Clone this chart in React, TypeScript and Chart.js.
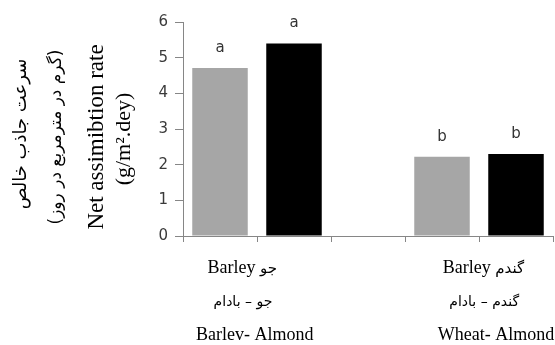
import React, { useEffect, useRef } from 'react';
import { Chart, registerables } from 'chart.js';

Chart.register(...registerables);

// ---- data ----
const slots = ['Barley', 'Almond', '', 'Wheat', 'Almond '];
const grayValues = [4.71, null, null, 2.22, null];
const blackValues = [null, 5.4, null, null, 2.3];
const grayLetters = ['a', null, null, 'b', null];
const blackLetters = [null, 'a', null, null, 'b'];
const yMin = 0;
const yMax = 6;
const yStep = 1;
const yTitleFa = ['سرعت جاذب خالص', '(گرم در مترمربع در روز)'];
const yTitleEn = ['Net assimibtion rate', '(g/m².dey)'];
const groupLine1En = ['Barley', 'Barley'];
const groupLine1Fa = ['جو', 'گندم'];
const groupLine2 = ['جو – بادام', 'گندم – بادام'];
const groupLine3 = ['Barlev- Almond', 'Wheat- Almond'];

// ---- layout (not data) ----
const line1Anchor = [0.3, 3.56];
const line2Anchor = [0.31, 3.57];
const line3Anchor = [0.47, 3.73];

const SERIF = "'Liberation Serif', 'Times New Roman', serif";
const FA = "'DejaVu Sans', sans-serif";
const AXIS = '#868686';

const overlay = {
  id: 'overlay',
  afterDraw(chart: any) {
    const ctx = chart.ctx;
    const x = chart.scales.x;
    const area = chart.chartArea;
    ctx.save();
    // letters above bars
    ctx.fillStyle = '#333333';
    ctx.font = "15px 'DejaVu Sans', sans-serif";
    ctx.textAlign = 'center';
    ctx.textBaseline = 'middle';
    const sets = [grayLetters, blackLetters];
    sets.forEach((letters, di) => {
      const meta = chart.getDatasetMeta(di);
      letters.forEach((l, i) => {
        if (!l) return;
        const el = meta.data[i];
        if (!el) return;
        ctx.fillText(l, el.x, el.y - 20);
      });
    });

    // category labels
    ctx.fillStyle = '#000000';
    ctx.textBaseline = 'alphabetic';
    for (let g = 0; g < 2; g++) {
      const enFont = `18px ${SERIF}`;
      const faFont = `15px ${FA}`;
      ctx.font = enFont;
      const wEn = ctx.measureText(groupLine1En[g] + ' ').width;
      ctx.font = faFont;
      const wFa = ctx.measureText(groupLine1Fa[g]).width;
      const cx1 = x.getPixelForValue(line1Anchor[g]);
      const start = cx1 - (wEn + wFa) / 2;
      ctx.textAlign = 'left';
      ctx.font = enFont;
      ctx.fillText(groupLine1En[g], start, area.bottom + 37);
      ctx.font = faFont;
      ctx.fillText(groupLine1Fa[g], start + wEn, area.bottom + 37);

      ctx.textAlign = 'center';
      ctx.font = `14px ${FA}`;
      ctx.fillText(groupLine2[g], x.getPixelForValue(line2Anchor[g]), area.bottom + 70);
      ctx.font = `18px ${SERIF}`;
      ctx.fillText(groupLine3[g], x.getPixelForValue(line3Anchor[g]), area.bottom + 104);
    }

    // y titles (rotated)
    const drawRot = (text: string, px: number, py: number, font: string) => {
      ctx.save();
      ctx.translate(px, py);
      ctx.rotate(-Math.PI / 2);
      ctx.font = font;
      ctx.textAlign = 'center';
      ctx.textBaseline = 'middle';
      ctx.fillText(text, 0, 0);
      ctx.restore();
    };
    drawRot(yTitleFa[0], 21, area.top + 112, `18px ${FA}`);
    drawRot(yTitleFa[1], 57, area.top + 115, `17px ${FA}`);
    drawRot(yTitleEn[0], 97, area.top + 115, `23px ${SERIF}`);
    drawRot(yTitleEn[1], 124, area.top + 117, `22px ${SERIF}`);
    ctx.restore();
  },
};

export default function App() {
  const ref = useRef<HTMLCanvasElement>(null);
  useEffect(() => {
    document.body.style.margin = '0';
    const chart = new Chart(ref.current as HTMLCanvasElement, {
      type: 'bar',
      data: {
        labels: slots,
        datasets: [
          {
            data: grayValues as any,
            backgroundColor: '#a6a6a6',
            borderWidth: 0,
            categoryPercentage: 1,
            barPercentage: 0.75,
            grouped: false,
          } as any,
          {
            data: blackValues as any,
            backgroundColor: '#000000',
            borderWidth: 0,
            categoryPercentage: 1,
            barPercentage: 0.75,
            grouped: false,
          } as any,
        ],
      },
      options: {
        animation: false,
        responsive: false,
        layout: { padding: { top: 22, right: 2, left: 0, bottom: 0 } },
        plugins: { legend: { display: false }, tooltip: { enabled: false } },
        scales: {
          x: {
            offset: true,
            grid: {
              display: true,
              drawOnChartArea: false,
              drawTicks: true,
              tickLength: 6,
              color: AXIS,
              offset: true,
            },
            border: { color: AXIS, width: 1 },
            ticks: { display: false },
            afterFit: (s: any) => {
              s.height = 109;
            },
          },
          y: {
            min: yMin,
            max: yMax,
            ticks: {
              stepSize: yStep,
              color: '#3a3a3a',
              font: { family: 'DejaVu Sans', size: 15 },
              padding: 7,
            },
            grid: {
              drawOnChartArea: false,
              drawTicks: true,
              tickLength: 8,
              color: AXIS,
            },
            border: { color: AXIS, width: 1 },
            afterFit: (s: any) => {
              s.width = 183;
            },
          },
        },
      },
      plugins: [overlay],
    });
    return () => chart.destroy();
  }, []);
  return (
    <div style={{ width: 555, height: 345 }}>
      <canvas ref={ref} width={555} height={345} />
    </div>
  );
}
